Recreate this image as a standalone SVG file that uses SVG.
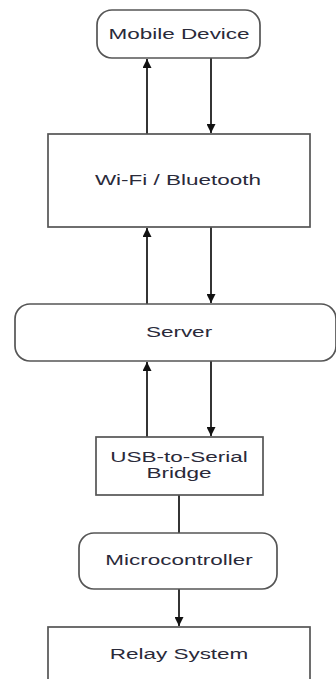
<svg xmlns="http://www.w3.org/2000/svg" width="336" height="679" viewBox="0 0 336 679">
<style>
.box{fill:#fff;stroke:#555;stroke-width:1.7}
.t{font-family:"Liberation Sans",Arial,sans-serif;font-size:15px;fill:#2a2a3a;text-anchor:middle}
.c{stroke:#111;stroke-width:1.7;fill:none}
</style>
<defs>
<marker id="ah" viewBox="0 0 10 10" refX="10" refY="5" markerWidth="9" markerHeight="9" markerUnits="userSpaceOnUse" orient="auto">
<path d="M0,0 L10,5 L0,10 Z" fill="#111"/>
</marker>
</defs>
<rect width="336" height="679" fill="#fff"/>
<g id="connectors">
<line class="c" x1="147" y1="134" x2="147" y2="59" marker-end="url(#ah)"/>
<line class="c" x1="211" y1="58" x2="211" y2="133" marker-end="url(#ah)"/>
<line class="c" x1="147" y1="304" x2="147" y2="228" marker-end="url(#ah)"/>
<line class="c" x1="211" y1="227" x2="211" y2="303" marker-end="url(#ah)"/>
<line class="c" x1="147" y1="437" x2="147" y2="362" marker-end="url(#ah)"/>
<line class="c" x1="211" y1="361" x2="211" y2="436" marker-end="url(#ah)"/>
<line class="c" x1="179" y1="495" x2="179" y2="533"/>
<line class="c" x1="179" y1="589" x2="179" y2="626" marker-end="url(#ah)"/>
</g>
<g id="mobile">
<rect class="box" x="97" y="10" width="163" height="48" rx="15"/>
<text class="t" transform="translate(179 39) scale(1.5 1)">Mobile Device</text>
</g>
<g id="wifi">
<rect class="box" x="48" y="134" width="262" height="93"/>
<text class="t" transform="translate(178 185) scale(1.5 1)">Wi-Fi / Bluetooth</text>
</g>
<g id="server">
<rect class="box" x="15" y="304" width="321" height="57" rx="15"/>
<text class="t" transform="translate(179 337) scale(1.5 1)">Server</text>
</g>
<g id="usb">
<rect class="box" x="96" y="437" width="167" height="58"/>
<text class="t" transform="translate(179 462) scale(1.5 1)">USB-to-Serial</text>
<text class="t" transform="translate(179 478) scale(1.5 1)">Bridge</text>
</g>
<g id="micro">
<rect class="box" x="79" y="533" width="198" height="56" rx="15"/>
<text class="t" transform="translate(179 565) scale(1.5 1)">Microcontroller</text>
</g>
<g id="relay">
<rect class="box" x="48" y="627" width="262" height="60"/>
<text class="t" transform="translate(179 659) scale(1.5 1)">Relay System</text>
</g>
</svg>
